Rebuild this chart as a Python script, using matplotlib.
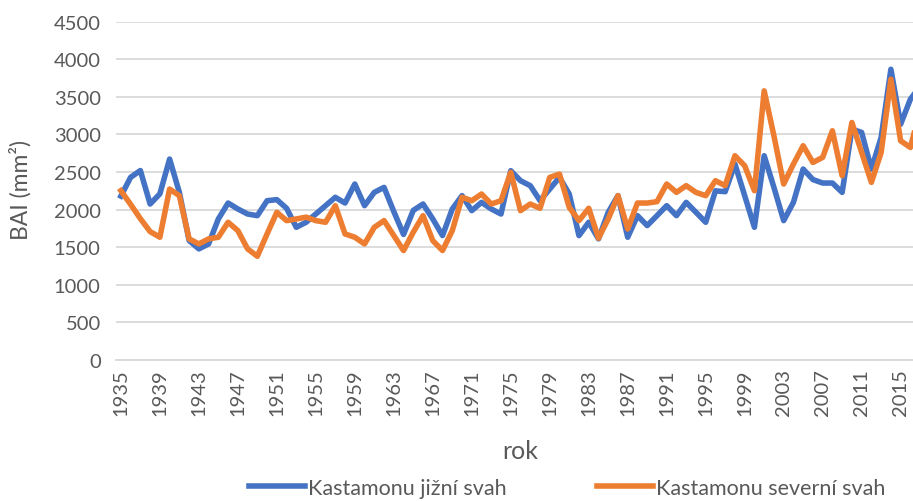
import matplotlib
matplotlib.use("Agg")
import matplotlib.pyplot as plt
from matplotlib.lines import Line2D

years = list(range(1935, 2018))
jizni = [2180, 2430, 2520, 2075, 2210, 2673, 2230, 1590, 1478, 1544,
         1876, 2088, 2009, 1942, 1920, 2119, 2133, 2018, 1765, 1832,
         1942, 2053, 2164, 2088, 2341, 2053, 2230, 2296, 1975, 1670,
         1990, 2075, 1876, 1655, 2009, 2186, 1987, 2097, 2009, 1942,
         2518, 2385, 2319, 2120, 2274, 2429, 2208, 1655, 1832, 1611,
         1965, 2186, 1633, 1920, 1788, 1920, 2053, 1920, 2097, 1965,
         1832, 2250, 2239, 2606, 2186, 1765, 2717, 2296, 1854, 2097,
         2540, 2400, 2354, 2354, 2230, 3071, 3027, 2540, 2960, 3867,
         3137, 3469, 3640]
severni = [2252, 2070, 1880, 1708, 1633, 2274, 2186, 1611, 1544, 1611,
           1633, 1832, 1721, 1478, 1380, 1677, 1965, 1854, 1876, 1900,
           1854, 1832, 2053, 1677, 1633, 1544, 1765, 1854, 1655, 1456,
           1700, 1920, 1588, 1456, 1721, 2164, 2119, 2208, 2075, 2119,
           2496, 1987, 2075, 2018, 2429, 2473, 2031, 1854, 2018, 1620,
           1876, 2186, 1743, 2088, 2088, 2106, 2341, 2230, 2319, 2230,
           2186, 2385, 2319, 2717, 2584, 2252, 3580, 2982, 2341, 2606,
           2850, 2628, 2695, 3049, 2451, 3159, 2761, 2363, 2761, 3735,
           2916, 2827, 3330]
yticks = list(range(0, 5000, 500))
xtick_years = list(range(1935, 2018, 4))
series_names = ["Kastamonu jižní svah", "Kastamonu severní svah"]

plt.rcParams['font.family'] = ['Lato', 'DejaVu Sans']
gray = '#595959'
blue = '#4472C4'
orange = '#ED7D31'

fig = plt.figure(figsize=(9.13, 5.02), dpi=100)
W, H = 913, 502
left, right, top, bottom = 116, 925, 22.7, 361
ax = fig.add_axes([left / W, 1 - bottom / H, (right - left) / W, (bottom - top) / H])

ax.plot(years, jizni, color=blue, lw=4, solid_joinstyle='round', zorder=3)
ax.plot(years, severni, color=orange, lw=4, solid_joinstyle='round', zorder=4)

ax.set_xlim(1934.5, 2017.5)
ax.set_ylim(0, 4500)
ax.set_yticks(yticks)
ax.set_yticklabels([str(v) for v in yticks])
ax.set_xticks(xtick_years)
ax.set_xticklabels([str(y) for y in xtick_years], rotation=90)
ax.tick_params(axis='both', length=0, colors=gray, labelsize=14.5)
ax.tick_params(axis='y', pad=11)
ax.tick_params(axis='x', pad=6)
ax.grid(axis='y', color='#D9D9D9', lw=1.3)
ax.set_axisbelow(True)
for s in ['top', 'right', 'left']:
    ax.spines[s].set_visible(False)
ax.spines['bottom'].set_color('#D9D9D9')
ax.spines['bottom'].set_linewidth(1.3)

fig.text(20 / W, 1 - 190 / H, "BAI (mm²)", rotation=90, ha='center', va='center',
         color=gray, fontsize=16.5)
fig.text(520 / W, 1 - 452 / H, "rok", ha='center', va='center', color=gray, fontsize=18)

handles = [Line2D([], [], color=blue, lw=4), Line2D([], [], color=orange, lw=4)]
fig.legend(handles, series_names, loc='center', bbox_to_anchor=(567 / W, 1 - 489 / H),
           ncol=2, frameon=False, fontsize=15.5, labelcolor=gray, handlelength=2.6,
           handletextpad=0.15, columnspacing=4.2)

fig.savefig("out.png", dpi=100)
